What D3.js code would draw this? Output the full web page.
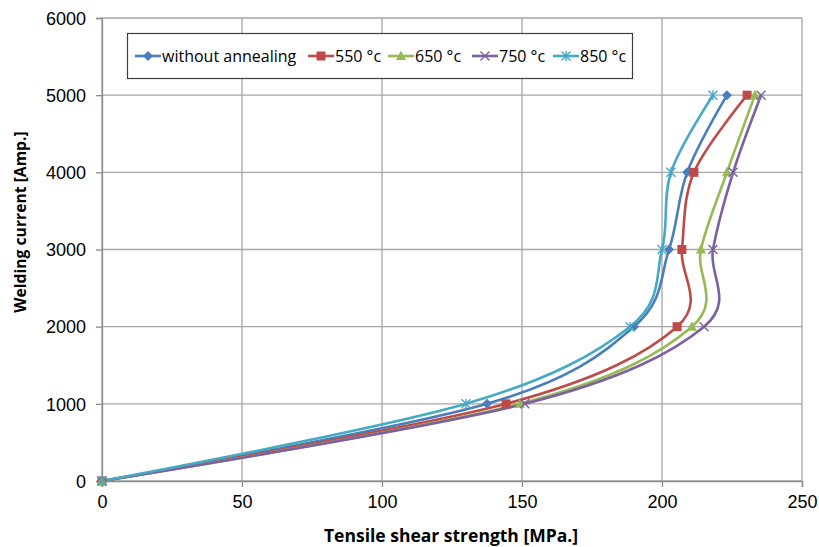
<!DOCTYPE html>
<html>
<head>
<meta charset="utf-8">
<script src="https://cdn.jsdelivr.net/npm/d3@7"></script>
<style>
  body { margin: 0; background: #fff; }
  svg { display: block; font-family: "Open Sans", sans-serif; }
</style>
</head>
<body>
<script>
var current = [0, 1000, 2000, 3000, 4000, 5000];
var withoutAnnealing = [0, 137.5, 190, 202.5, 209, 223.2];
var t550 = [0, 144.3, 205.4, 207.1, 211.4, 230.4];
var t650 = [0, 149.3, 210.7, 213.9, 223.2, 233.2];
var t750 = [0, 151, 215, 218.2, 225.4, 235.4];
var t850 = [0, 130, 188.6, 200, 203.2, 218.2];
var seriesNames = ["without annealing", "550 °c", "650 °c", "750 °c", "850 °c"];
var xTicks = [0, 50, 100, 150, 200, 250];
var yTicks = [0, 1000, 2000, 3000, 4000, 5000, 6000];

var colors = ["#4a7ebb", "#be4b48", "#98b954", "#7d60a0", "#46aac5"];
var markers = ["diamond", "square", "triangle", "x", "star"];
var allValues = [withoutAnnealing, t550, t650, t750, t850];

var series = seriesNames.map(function(name, i) {
    return {
        name: name, color: colors[i], marker: markers[i],
        values: allValues[i].map(function(v, j) { return {x: v, y: current[j]}; })
    };
});

var W = 819, H = 547;
var margin = {top: 18, right: 17, bottom: 66, left: 102};
var width = W - margin.left - margin.right,
    height = H - margin.top - margin.bottom;

var x = d3.scaleLinear().domain([0, 250]).range([0, width]);
var y = d3.scaleLinear().domain([0, 6000]).range([height, 0]);

var svg = d3.select("body").append("svg")
    .attr("width", W)
    .attr("height", H);

var g = svg.append("g")
    .attr("transform", "translate(" + margin.left + "," + margin.top + ")");

// grid
g.selectAll(".vgrid").data(xTicks).enter().append("line")
    .attr("x1", d => x(d)).attr("x2", d => x(d))
    .attr("y1", 0).attr("y2", height)
    .attr("stroke", "#a6a6a6").attr("stroke-width", 1.3);
g.selectAll(".hgrid").data(yTicks).enter().append("line")
    .attr("x1", 0).attr("x2", width)
    .attr("y1", d => y(d)).attr("y2", d => y(d))
    .attr("stroke", "#a6a6a6").attr("stroke-width", 1.3);

var xAxis = d3.axisBottom(x).tickValues(xTicks).tickSize(6).tickPadding(8);
var yAxis = d3.axisLeft(y).tickValues(yTicks).tickFormat(d3.format("d")).tickSize(6).tickPadding(10);

var gx = g.append("g").attr("transform", "translate(0," + height + ")").call(xAxis);
var gy = g.append("g").call(yAxis);
[gx, gy].forEach(function(a) {
    a.select(".domain").attr("stroke", "#8c8c8c").attr("stroke-width", 1.3);
    a.selectAll(".tick line").attr("stroke", "#8c8c8c").attr("stroke-width", 1.3);
    a.selectAll(".tick text").attr("fill", "#000").style("font-size", "18px");
});
gy.selectAll(".tick text").attr("dy", "0.35em");

// curves
var line = d3.line()
    .x(d => x(d.x))
    .y(d => y(d.y))
    .curve(d3.curveCatmullRom.alpha(0));

g.selectAll(".series").data(series).enter().append("path")
    .attr("d", d => line(d.values))
    .attr("fill", "none")
    .attr("stroke", d => d.color)
    .attr("stroke-width", 2.6);

function drawMarker(sel, type, color) {
    if (type === "diamond") {
        sel.append("path").attr("d", "M0,-5L5,0L0,5L-5,0Z").attr("fill", color);
    } else if (type === "square") {
        sel.append("rect").attr("x", -4.5).attr("y", -4.5).attr("width", 9).attr("height", 9).attr("fill", color);
    } else if (type === "triangle") {
        sel.append("path").attr("d", "M0,-5.5L5,4L-5,4Z").attr("fill", color);
    } else if (type === "x") {
        sel.append("path").attr("d", "M-4.5,-4.5L4.5,4.5M-4.5,4.5L4.5,-4.5")
            .attr("stroke", color).attr("stroke-width", 1.4).attr("fill", "none");
    } else {
        sel.append("path").attr("d", "M-4.5,-4.5L4.5,4.5M-4.5,4.5L4.5,-4.5M0,-5L0,5")
            .attr("stroke", color).attr("stroke-width", 1.4).attr("fill", "none");
    }
}

series.forEach(function(s) {
    s.values.forEach(function(p) {
        var m = g.append("g").attr("transform", "translate(" + x(p.x) + "," + y(p.y) + ")");
        drawMarker(m, s.marker, s.color);
    });
});

// axis titles
svg.append("text")
    .attr("x", margin.left + width / 2 - 1)
    .attr("y", 542)
    .attr("text-anchor", "middle")
    .style("font-size", "17.5px")
    .style("font-weight", "bold")
    .text("Tensile shear strength [MPa.]");

svg.append("text")
    .attr("transform", "translate(26,222) rotate(-90)")
    .attr("text-anchor", "middle")
    .style("font-size", "15.7px")
    .style("font-weight", "bold")
    .text("Welding current [Amp.]");

// legend
var legend = svg.append("g");
legend.append("rect")
    .attr("x", 127.5).attr("y", 33.5)
    .attr("width", 505).attr("height", 45)
    .attr("fill", "#fff")
    .attr("stroke", "#404040").attr("stroke-width", 1.2);

var legendX = [135, 308, 388, 472, 553];
series.forEach(function(s, i) {
    var lg = legend.append("g").attr("transform", "translate(" + legendX[i] + ",56)");
    lg.append("line").attr("x1", 0).attr("x2", 26).attr("y1", 0).attr("y2", 0)
        .attr("stroke", s.color).attr("stroke-width", 2.6);
    drawMarker(lg.append("g").attr("transform", "translate(13,0)"), s.marker, s.color);
    lg.append("text").attr("x", 27).attr("y", 0).attr("dy", "0.35em")
        .style("font-size", "16px")
        .text(s.name);
});
</script>
</body>
</html>
